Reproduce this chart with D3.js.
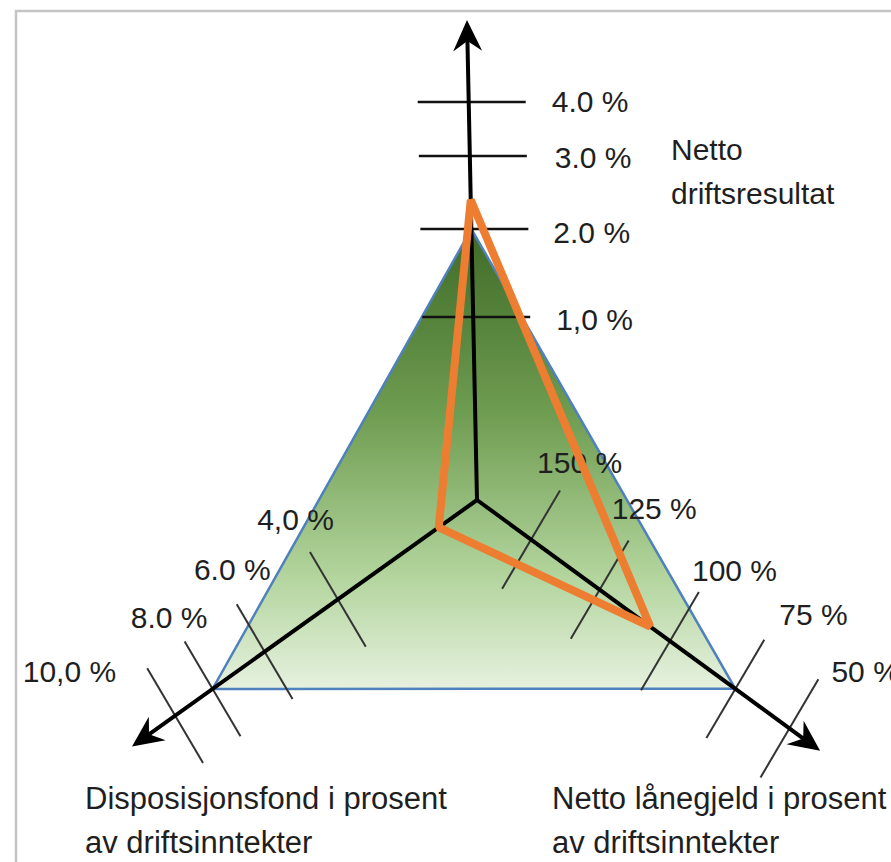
<!DOCTYPE html>
<html>
<head>
<meta charset="utf-8">
<script src="https://cdn.jsdelivr.net/npm/d3@7"></script>
<style>
  body { margin: 0; background: #fff; }
  svg text { font-family: "Liberation Sans", Arial, sans-serif; fill: #1f1f1f; }
</style>
</head>
<body>
<div id="chart"></div>
<script>
// data
const axisNames = ["Netto driftsresultat", "Disposisjonsfond i prosent av driftsinntekter", "Netto lånegjeld i prosent av driftsinntekter"];
const nettoTicks = [1, 2, 3, 4];
const nettoLabels = ["1,0 %", "2.0 %", "3.0 %", "4.0 %"];
const dispTicks = [4, 6, 8, 10];
const dispLabels = ["4,0 %", "6.0 %", "8.0 %", "10,0 %"];
const laanTicks = [150, 125, 100, 75, 50];
const laanLabels = ["150 %", "125 %", "100 %", "75 %", "50 %"];
const benchmark = [2.0, 8.0, 75];   // green triangle
const actual = [2.4, 1.1, 107];     // orange line

const width = 891, height = 862;
const cx = 477, cy = 500;

// each axis has its own uneven scale (distance from centre in px)
const axes = [
  { scale: d3.scaleLinear().domain([0, 1, 2, 3, 4]).range([0, 183, 271, 344, 398]),
    angle: Math.atan2(-480, -10), len: 480, ticks: nettoTicks, labels: nettoLabels,
    tickAngle: 0, tickHalf: 54, tickShift: 3, tickColor: "#111", tickWidth: 2.5,
    labelDx: [83, 82, 85, 83], labelDy: [13, 14, 12, 10], anchor: "start" },
  { scale: d3.scaleLinear().domain([0, 4, 6, 8, 10]).range([0, 171, 261, 325, 371]),
    angle: Math.atan2(246.7, -345.3), len: 424, ticks: dispTicks, labels: dispLabels,
    tickAngle: 59.5, tickHalf: 55, tickShift: 0, tickColor: "#333", tickWidth: 2,
    labelDx: [-4, 6, -5, -59], labelDy: [-69, -72, -61, -34], anchor: "end" },
  { scale: d3.scaleLinear().domain([170, 150, 125, 100, 75, 50]).range([0, 67, 152, 239, 320, 387]),
    angle: Math.atan2(250.7, 343), len: 425, ticks: laanTicks, labels: laanLabels,
    tickAngle: 120.5, tickHalf: 57, tickShift: 0, tickColor: "#333", tickWidth: 2,
    labelDx: [6, 12, 22, 44, 42], labelDy: [-67, -71, -60, -64, -46], anchor: "start" }
];

function pt(a, v) {
  const d = a.scale(v);
  return [cx + d * Math.cos(a.angle), cy + d * Math.sin(a.angle)];
}

const svg = d3.select("#chart").append("svg")
  .attr("width", width)
  .attr("height", height);

const defs = svg.append("defs");
const grad = defs.append("linearGradient")
  .attr("id", "greenFill")
  .attr("gradientUnits", "userSpaceOnUse")
  .attr("x1", 0).attr("x2", 0)
  .attr("y1", pt(axes[0], benchmark[0])[1])
  .attr("y2", pt(axes[1], benchmark[1])[1]);
[[0, "#3f6b28"], [0.4, "#6e9c50"], [0.75, "#b2d49c"], [1, "#e6f1df"]].forEach(s => {
  grad.append("stop").attr("offset", s[0]).attr("stop-color", s[1]);
});

// frame
svg.append("path")
  .attr("d", `M16,${height} V11 H${width}`)
  .attr("fill", "none")
  .attr("stroke", "#c4c4c4")
  .attr("stroke-width", 2.5);

// benchmark triangle
svg.append("polygon")
  .attr("points", axes.map((a, i) => pt(a, benchmark[i]).join(",")).join(" "))
  .attr("fill", "url(#greenFill)")
  .attr("stroke", "#4f81bd")
  .attr("stroke-width", 2.5);

// tick marks
axes.forEach(a => {
  const t = a.tickAngle * Math.PI / 180;
  svg.append("g").selectAll("line")
    .data(a.ticks)
    .enter().append("line")
    .attr("x1", d => pt(a, d)[0] + a.tickShift - a.tickHalf * Math.cos(t))
    .attr("y1", d => pt(a, d)[1] - a.tickHalf * Math.sin(t))
    .attr("x2", d => pt(a, d)[0] + a.tickShift + a.tickHalf * Math.cos(t))
    .attr("y2", d => pt(a, d)[1] + a.tickHalf * Math.sin(t))
    .attr("stroke", a.tickColor)
    .attr("stroke-width", a.tickWidth);
});

// axis arrows
axes.forEach(a => {
  const tipX = cx + a.len * Math.cos(a.angle);
  const tipY = cy + a.len * Math.sin(a.angle);
  svg.append("line")
    .attr("x1", cx).attr("y1", cy)
    .attr("x2", cx + (a.len - 14) * Math.cos(a.angle))
    .attr("y2", cy + (a.len - 14) * Math.sin(a.angle))
    .attr("stroke", "#000")
    .attr("stroke-width", 4);
  svg.append("path")
    .attr("d", "M0,0 L-31,-14.5 L-21,0 L-31,14.5 Z")
    .attr("transform", `translate(${tipX},${tipY}) rotate(${a.angle * 180 / Math.PI})`)
    .attr("fill", "#000");
});

// tick labels
axes.forEach(a => {
  svg.append("g").selectAll("text")
    .data(a.ticks)
    .enter().append("text")
    .attr("x", (d, i) => pt(a, d)[0] + a.labelDx[i])
    .attr("y", (d, i) => pt(a, d)[1] + a.labelDy[i])
    .attr("text-anchor", a.anchor)
    .style("font-size", "30px")
    .text((d, i) => a.labels[i]);
});

// axis titles
const topTitle = svg.append("text")
  .attr("x", cx + 194)
  .attr("y", cy - 340)
  .style("font-size", "30px");
topTitle.append("tspan").attr("x", cx + 194).text("Netto");
topTitle.append("tspan").attr("x", cx + 194).attr("dy", 44).text("driftsresultat");

[[axisNames[1], 85], [axisNames[2], 552]].forEach(([name, x]) => {
  const words = name.split(" i prosent ");
  const t = svg.append("text").attr("y", 809).style("font-size", "31px");
  t.append("tspan").attr("x", x).text(words[0] + " i prosent");
  t.append("tspan").attr("x", x).attr("dy", 44).text(words[1]);
});

// actual values
svg.append("polygon")
  .attr("points", axes.map((a, i) => pt(a, actual[i]).join(",")).join(" "))
  .attr("fill", "none")
  .attr("stroke", "#ed7d31")
  .attr("stroke-width", 8)
  .attr("stroke-linejoin", "bevel");
</script>
</body>
</html>
